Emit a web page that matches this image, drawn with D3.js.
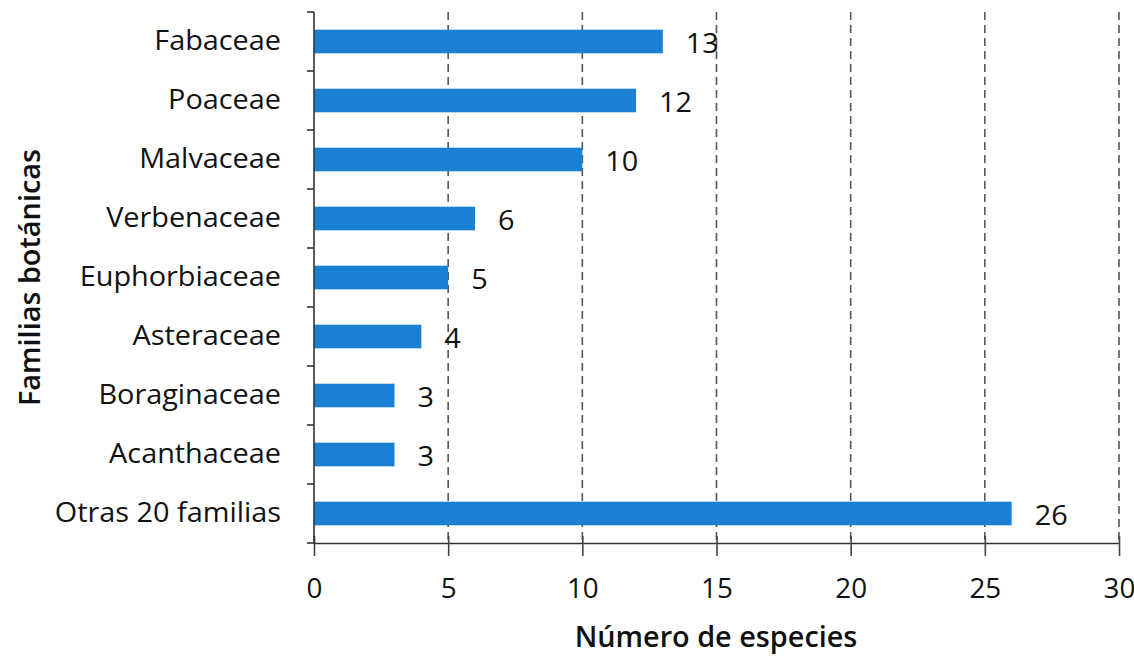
<!DOCTYPE html>
<html>
<head>
<meta charset="utf-8">
<script src="https://cdn.jsdelivr.net/npm/d3@7"></script>
<style>
  html, body { margin: 0; padding: 0; background: #fff; }
  svg { display: block; }
  text { font-family: "Open Sans", sans-serif; fill: #111; }
</style>
</head>
<body>
<svg id="chart" width="1134" height="656"></svg>
<script>
// Botanical families and number of species per family
const families = ["Fabaceae", "Poaceae", "Malvaceae", "Verbenaceae", "Euphorbiaceae",
                  "Asteraceae", "Boraginaceae", "Acanthaceae", "Otras 20 familias"];
const species = [13, 12, 10, 6, 5, 4, 3, 3, 26];
const xTicks = [0, 5, 10, 15, 20, 25, 30];

const svg = d3.select("#chart");
const margin = { left: 314, top: 12, right: 15, bottom: 113 };
const W = 1134, H = 656;
const plotBottom = H - margin.bottom;
const stretch = 1.03; // slight horizontal stretch of the lettering

const x = d3.scaleLinear().domain([0, 30]).range([margin.left, 1119]);
const y = d3.scaleBand().domain(families).range([margin.top, plotBottom]).paddingInner(0.6).paddingOuter(0.3);
const yBands = d3.scaleBand().domain(families).range([margin.top, plotBottom]);

// Dashed vertical gridlines
svg.append("g").selectAll("line")
  .data(xTicks.filter(d => d > 0))
  .join("line")
  .attr("x1", d => x(d)).attr("x2", d => x(d))
  .attr("y1", margin.top).attr("y2", plotBottom)
  .attr("stroke", "#555").attr("stroke-width", 1.6)
  .attr("stroke-dasharray", "8,5");

// Bars
svg.append("g").selectAll("rect")
  .data(families)
  .join("rect")
  .attr("x", x(0))
  .attr("y", d => y(d))
  .attr("width", (d, i) => x(species[i]) - x(0))
  .attr("height", y.bandwidth())
  .attr("fill", "#1a80d3");

// Value labels
svg.append("g").selectAll("text")
  .data(families)
  .join("text")
  .attr("transform", (d, i) => `translate(${x(species[i]) + 23},${y(d) + y.bandwidth() / 2 + 1}) scale(${stretch},1)`)
  .attr("dy", "0.36em")
  .attr("font-size", 28)
  .text((d, i) => species[i]);

// Bottom axis
const xAxis = d3.axisBottom(x).tickValues(xTicks).tickSize(0).tickPadding(0);
const gx = svg.append("g").attr("transform", `translate(0,${plotBottom})`).call(xAxis);
gx.select(".domain").attr("stroke", "#333").attr("stroke-width", 1.6);
gx.selectAll(".tick text").remove();
gx.selectAll(".tick").append("line")
  .attr("y1", -7).attr("y2", 13)
  .attr("stroke", "#444").attr("stroke-width", 1.6);
gx.selectAll(".tick").append("text")
  .attr("transform", `translate(0,55) scale(${stretch},1)`)
  .attr("text-anchor", "middle")
  .attr("font-size", 27)
  .attr("fill", "#111")
  .text(d => d);

// Left axis with ticks at category boundaries
svg.append("line")
  .attr("x1", x(0)).attr("x2", x(0))
  .attr("y1", margin.top).attr("y2", plotBottom)
  .attr("stroke", "#333").attr("stroke-width", 1.6);
const bounds = families.map(d => yBands(d)).concat([plotBottom]);
svg.append("g").selectAll("line")
  .data(bounds)
  .join("line")
  .attr("x1", x(0) - 7).attr("x2", x(0))
  .attr("y1", d => d).attr("y2", d => d)
  .attr("stroke", "#333").attr("stroke-width", 1.6);

// Category labels
svg.append("g").selectAll("text")
  .data(families)
  .join("text")
  .attr("transform", d => `translate(281,${yBands(d) + yBands.bandwidth() / 2 - 2}) scale(${stretch},1)`)
  .attr("dy", "0.36em")
  .attr("text-anchor", "end")
  .attr("font-size", 28)
  .text(d => d);

// Axis titles
svg.append("text")
  .attr("transform", `translate(716,647) scale(${stretch},1)`)
  .attr("text-anchor", "middle")
  .attr("font-size", 28).attr("font-weight", 600)
  .text("Número de especies");

svg.append("text")
  .attr("transform", `translate(40,${(margin.top + plotBottom) / 2}) rotate(-90) scale(${stretch},1)`)
  .attr("text-anchor", "middle")
  .attr("font-size", 28).attr("font-weight", 600)
  .text("Familias botánicas");
</script>
</body>
</html>
